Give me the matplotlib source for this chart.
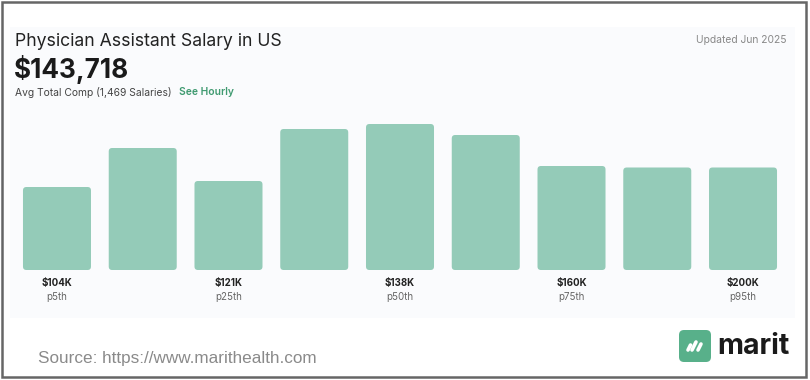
import matplotlib
matplotlib.use("Agg")
import matplotlib.pyplot as plt
from matplotlib.patches import FancyBboxPatch, Rectangle

# Salary distribution (relative share of salaries per band)
bar_counts = [83, 122, 89, 141, 146, 135, 104, 102.5, 102.5]
value_labels = ["$104K", "", "$121K", "", "$138K", "", "$160K", "", "$200K"]
pct_labels = ["p5th", "", "p25th", "", "p50th", "", "p75th", "", "p95th"]

W, H = 810, 380
BAR_COLOR = "#94cbb8"
GREEN = "#3f9a70"
FONT = "Inter"


def fx(x):
    return x / W


def fy(y):
    return 1 - y / H


fig = plt.figure(figsize=(8.1, 3.8), dpi=100)
fig.patch.set_facecolor("white")

# light panel behind the card
fig.patches.append(Rectangle((fx(10), fy(318)), fx(795) - fx(10), fy(27) - fy(318),
                             transform=fig.transFigure, facecolor="#fafbfd",
                             edgecolor="none", zorder=-1))
# outer frame
fig.patches.append(Rectangle((fx(2), fy(377)), fx(806) - fx(2), fy(2) - fy(377),
                             transform=fig.transFigure, facecolor="none",
                             edgecolor="#666666", linewidth=1.8, zorder=5))

# bars
ax = fig.add_axes([fx(14.1), fy(270), fx(785.9) - fx(14.1), fy(120) - fy(270)])
ax.set_xlim(-0.5, len(bar_counts) - 0.5)
ax.set_ylim(0, 150)
ax.axis("off")
ax.patch.set_alpha(0)

bw = 68 / 85.75
for i, h in enumerate(bar_counts):
    patch = FancyBboxPatch((i - bw / 2, 0), bw, h,
                           boxstyle="round,pad=0,rounding_size=0.04",
                           mutation_aspect=85.75,
                           facecolor=BAR_COLOR, edgecolor="none")
    ax.add_patch(patch)
    if value_labels[i]:
        ax.annotate(value_labels[i], xy=(i, 0), xytext=(0, -13),
                    textcoords="offset pixels", ha="center", va="center",
                    fontsize=7, fontweight="bold", color="#222222", family=FONT,
                    annotation_clip=False)
        ax.annotate(pct_labels[i], xy=(i, 0), xytext=(0, -27),
                    textcoords="offset pixels", ha="center", va="center",
                    fontsize=7, color="#666666", family=FONT,
                    annotation_clip=False)

# header texts
fig.text(fx(15), fy(42), "Physician Assistant Salary in US", fontsize=12.7,
         color="#222222", family=FONT, va="center", ha="left")
fig.text(fx(14), fy(69), "$143,718", fontsize=18.8, fontweight="bold",
         color="#1a1a1a", family=FONT, va="center", ha="left")
fig.text(fx(15), fy(92), "Avg Total Comp (1,469 Salaries)", fontsize=7.4,
         color="#444444", family=FONT, va="center", ha="left")
fig.text(fx(179), fy(92), "See Hourly", fontsize=7.4, fontweight="semibold",
         color=GREEN, family=FONT, va="center", ha="left")
fig.text(fx(787), fy(40), "Updated Jun 2025", fontsize=7.4,
         color="#888888", family=FONT, va="center", ha="right")

# footer
fig.text(fx(38), fy(358), "Source: https://www.marithealth.com", fontsize=12.3,
         color="#8a8a8a", family="Liberation Sans", va="center", ha="left")

# logo
lax = fig.add_axes([fx(679), fy(362), fx(711) - fx(679), fy(330) - fy(362)])
lax.set_xlim(0, 32)
lax.set_ylim(0, 32)
lax.axis("off")
lax.add_patch(FancyBboxPatch((0, 0), 32, 32, boxstyle="round,pad=0,rounding_size=5",
                             facecolor="#58b08a", edgecolor="none"))
for x0, y0, x1, y1 in [(9, 12, 11.5, 17), (13, 12, 17, 20), (19, 12, 22, 18)]:
    lax.plot([x0, x1], [y0, y1], color="white", linewidth=2.6,
             solid_capstyle="round")
fig.text(fx(717), fy(346), "marit", fontsize=20.5, fontweight="bold",
         color="#1a1a1a", family=FONT, va="center", ha="left")

fig.savefig("out.png", dpi=100)
